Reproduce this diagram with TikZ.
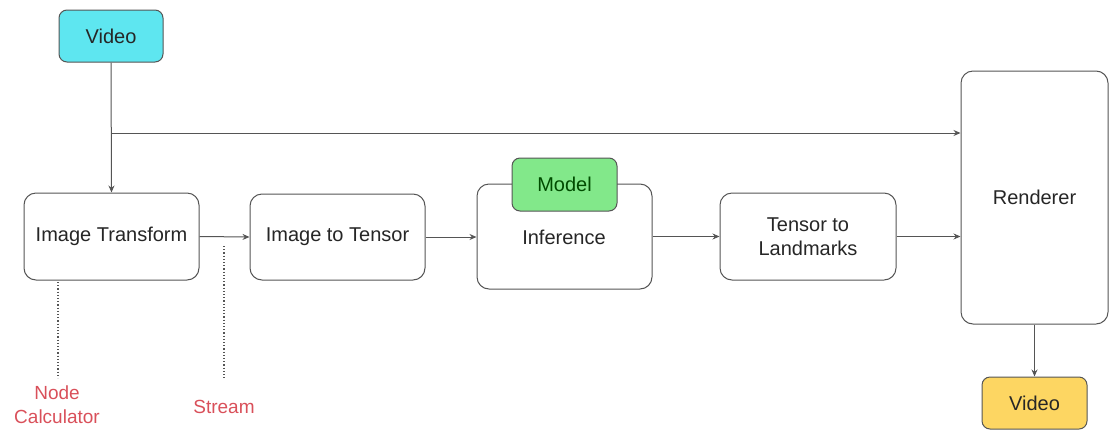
\documentclass[tikz,border=0pt]{standalone}
\usepackage{fontspec}
\setmainfont{Liberation Sans}
\usetikzlibrary{arrows.meta}
\definecolor{edge}{HTML}{555555}
\definecolor{cyanfill}{HTML}{5EE6F0}
\definecolor{greenfill}{HTML}{82E88A}
\definecolor{yellowfill}{HTML}{FDD662}
\definecolor{redtext}{HTML}{D9505A}
\tikzset{
  box/.style={draw=edge, line width=1pt, rounded corners=12pt, fill=white, align=center,
    inner sep=0pt, font=\fontsize{20}{24}\selectfont, text=black!85},
  arr/.style={draw=edge, line width=1pt, -{Stealth[length=7pt,width=6pt]}},
  dots/.style={draw=edge, line width=1.2pt, dotted},
  lbl/.style={text=redtext, align=center, font=\fontsize{19}{24}\selectfont, inner sep=0pt}
}
\begin{document}
\begin{tikzpicture}[x=1pt,y=-1pt]
\useasboundingbox (0,0) rectangle (1110,429);
\node[box, fill=cyanfill, rounded corners=8pt, minimum width=104pt, minimum height=52pt] (vin) at (111,36) {Video};
\node[box, minimum width=175pt, minimum height=87pt] (it) at (111.5,236.5) {Image Transform};
\node[box, minimum width=175pt, minimum height=86pt] (itt) at (337.5,237) {Image to Tensor};
\node[box, minimum width=175pt, minimum height=105pt] (inf) at (564.5,236.5) {};
\node[font=\fontsize{20}{24}\selectfont, text=black!85] at (564,237) {Inference};
\node[box, fill=greenfill, rounded corners=8pt, minimum width=105pt, minimum height=53pt, text=green!30!black] (model) at (564.5,184.5) {Model};
\node[box, minimum width=176pt, minimum height=87pt] (ttl) at (808,236.5) {Tensor to\\Landmarks};
\node[box, minimum width=147pt, minimum height=253pt] (ren) at (1034.5,197.5) {};
\node[font=\fontsize{20}{24}\selectfont, text=black!85] at (1034.5,197) {Renderer};
\node[box, fill=yellowfill, rounded corners=8pt, minimum width=105pt, minimum height=52pt] (vout) at (1034.5,403) {Video};

\coordinate (br) at (111,133);
\draw[arr] (vin.south) -- (it.north);
\draw[arr] (br) -- (br -| ren.west);
\draw[arr] (it.east) -- (itt.west);
\draw[arr] (itt.east) -- (itt.east -| inf.west);
\draw[arr] (inf.east |- ttl.east) -- (ttl.west);
\draw[arr] (ttl.east) -- (ttl.east -| ren.west);
\draw[arr] (ren.south) -- (vout.north);

\node[lbl] (nc) at (57,405) {Node\\Calculator};
\node[lbl] (st) at (224,407) {Stream};
\coordinate (d1) at (58,282);
\coordinate (d2) at (224,246);
\draw[dots] (d1) -- (58,378);
\draw[dots] (d2) -- (224,380);
\end{tikzpicture}
\end{document}
